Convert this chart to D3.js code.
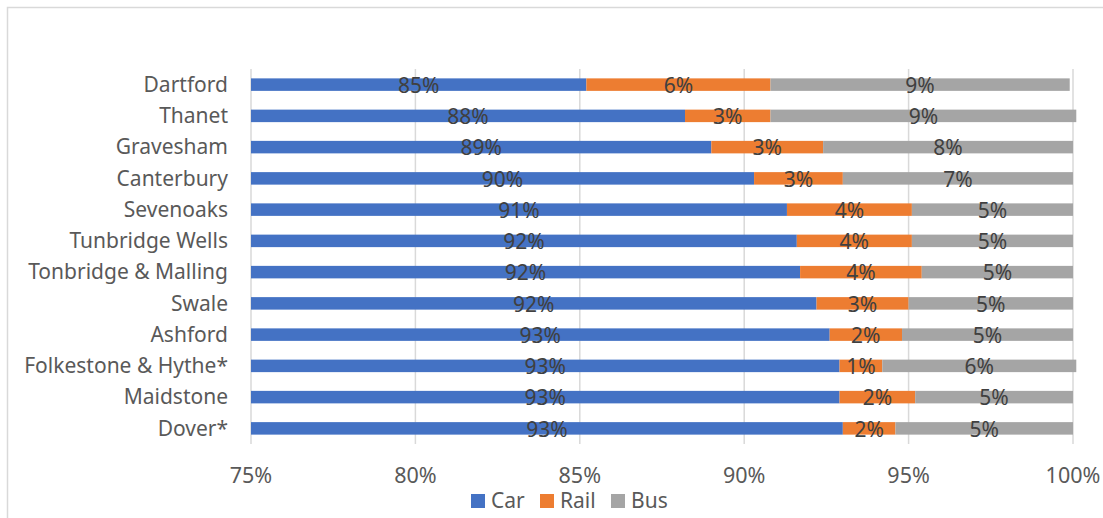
<!DOCTYPE html>
<html><head><meta charset="UTF-8">
<script src="https://d3js.org/d3.v7.min.js"></script>
<style>
  body { margin: 0; background: #fff; }
  text { font-family: "Noto Sans", sans-serif; fill: #595959; }
</style>
</head>
<body>
<script>
  // shares of travel mode by district, in percent
  const districts = ["Dartford", "Thanet", "Gravesham", "Canterbury", "Sevenoaks",
    "Tunbridge Wells", "Tonbridge & Malling", "Swale", "Ashford",
    "Folkestone & Hythe*", "Maidstone", "Dover*"];
  const car  = [85.2, 88.2, 89.0, 90.3, 91.3, 91.6, 91.7, 92.2, 92.6, 92.9, 92.9, 93.0];
  const rail = [5.6, 2.6, 3.4, 2.7, 3.8, 3.5, 3.7, 2.8, 2.2, 1.3, 2.3, 1.6];
  const bus  = [9.1, 9.3, 7.6, 7.0, 4.9, 4.9, 4.6, 5.0, 5.2, 5.9, 4.8, 5.4];
  const series = ["Car", "Rail", "Bus"];
  const xTicks = [75, 80, 85, 90, 95, 100];

  const W = 1103, H = 518;
  const colors = {Car: "#4472C4", Rail: "#ED7D31", Bus: "#A5A5A5"};

  const svg = d3.select("body").append("svg")
      .attr("width", W).attr("height", H);

  // chart frame (right and bottom edges fall outside the picture)
  svg.append("rect")
      .attr("x", 7.5).attr("y", 7.5)
      .attr("width", 1110).attr("height", 530)
      .attr("fill", "none").attr("stroke", "#d9d9d9").attr("stroke-width", 1.5);

  const x = d3.scaleLinear().domain([75, 100]).range([251, 1073]);
  const y = d3.scaleBand().domain(districts).range([69, 444])
      .paddingInner(0.6).paddingOuter(0.3);

  // gridlines
  svg.append("g").selectAll("line").data(xTicks).join("line")
      .attr("x1", d => x(d)).attr("x2", d => x(d))
      .attr("y1", 69).attr("y2", 444)
      .attr("stroke", "#d9d9d9").attr("stroke-width", 1.5);

  // tick labels
  svg.append("g").selectAll("text").data(xTicks).join("text")
      .attr("x", d => x(d)).attr("y", 475)
      .attr("dy", "0.35em")
      .attr("text-anchor", "middle")
      .style("font-size", "21.5px")
      .text(d => d + "%");

  // category labels
  svg.append("g").selectAll("text").data(districts).join("text")
      .attr("x", 228).attr("y", d => y(d) + y.bandwidth() / 2)
      .attr("dy", "0.35em")
      .attr("text-anchor", "end")
      .style("font-size", "21px")
      .text(d => d);

  const rows = districts.map((d, i) => ({district: d, Car: car[i], Rail: rail[i], Bus: bus[i]}));
  const stacked = d3.stack().keys(series)(rows);

  // the axis starts at 75%, so the car segment is cut there
  const x0 = d => x(Math.max(75, d[0]));

  stacked.forEach(layer => {
    const g = svg.append("g");
    g.selectAll("rect").data(layer).join("rect")
        .attr("x", x0)
        .attr("width", d => x(d[1]) - x0(d))
        .attr("y", d => y(d.data.district))
        .attr("height", y.bandwidth())
        .attr("fill", colors[layer.key]);
    g.selectAll("text").data(layer).join("text")
        .attr("x", d => (x0(d) + x(d[1])) / 2)
        .attr("y", d => y(d.data.district) + y.bandwidth() / 2 + 1)
        .attr("dy", "0.35em")
        .attr("text-anchor", "middle")
        .style("font-size", "21px")
        .style("fill", "#404040")
        .text(d => Math.round(d.data[layer.key]) + "%");
  });

  // legend
  const legendX = [471, 540, 611];
  const lg = svg.append("g").selectAll("g").data(series).join("g")
      .attr("transform", (d, i) => `translate(${legendX[i]},494)`);
  lg.append("rect").attr("width", 14).attr("height", 14)
      .attr("fill", d => colors[d]);
  lg.append("text").attr("x", 20).attr("y", 7).attr("dy", "0.35em")
      .style("font-size", "21px")
      .text(d => d);
</script>
</body>
</html>
